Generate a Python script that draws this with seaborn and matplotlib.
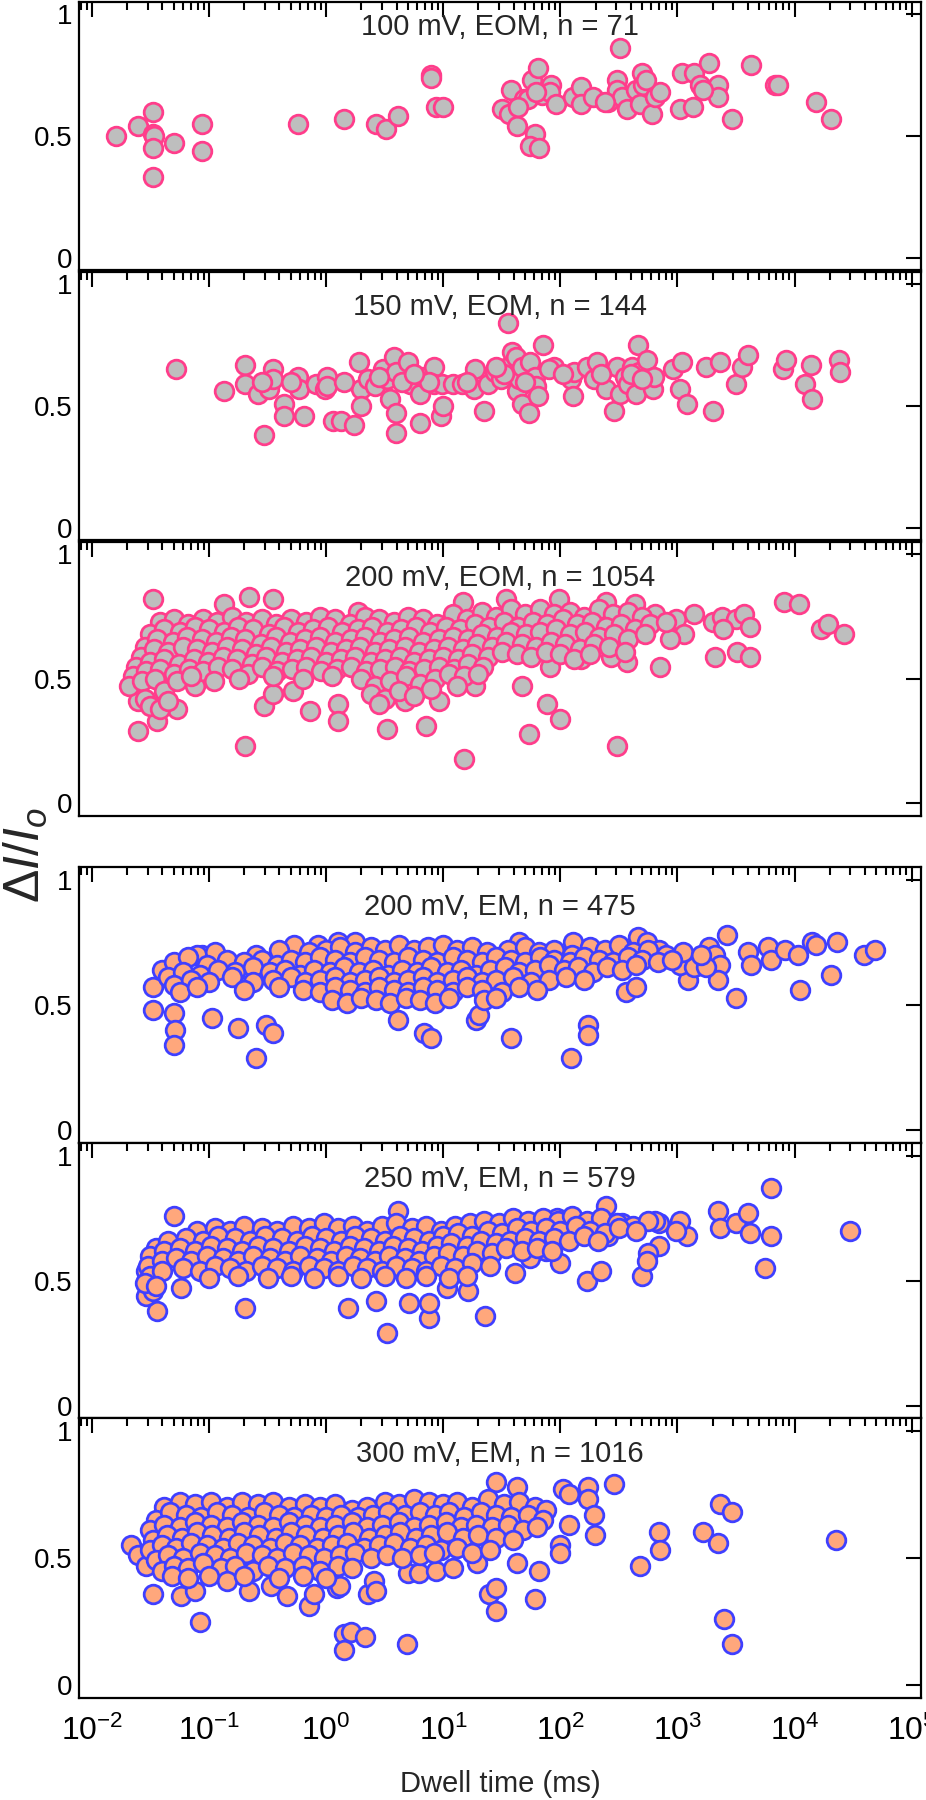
import numpy as np
import pandas as pd
import seaborn as sns
import matplotlib.pyplot as plt
from matplotlib.ticker import LogLocator, NullFormatter, NullLocator, FixedLocator

# (log10 dwell time in ms, dI/Io)
eom100 = [(-1.79, 0.50), (-1.61, 0.54), (-1.48, 0.60), (-1.48, 0.51), (-1.47, 0.50), (-1.48, 0.45),
          (-1.48, 0.33), (-1.30, 0.47), (-1.06, 0.55), (-1.06, 0.44), (-0.24, 0.55), (0.15, 0.57),
          (0.43, 0.55), (0.51, 0.53), (0.61, 0.58), (0.90, 0.75), (0.90, 0.74), (0.94, 0.62),
          (1.00, 0.62), (1.50, 0.61), (1.56, 0.59), (1.58, 0.69), (1.63, 0.54), (1.69, 0.65),
          (1.72, 0.65), (1.76, 0.73), (1.81, 0.78), (1.78, 0.51), (1.74, 0.46), (1.82, 0.45),
          (1.84, 0.67), (1.92, 0.71), (1.91, 0.68), (1.96, 0.63), (2.11, 0.66), (2.18, 0.70),
          (2.18, 0.63), (2.28, 0.66), (2.41, 0.64), (2.48, 0.73), (2.48, 0.69), (2.51, 0.86),
          (2.53, 0.66), (2.57, 0.61), (2.65, 0.69), (2.70, 0.76), (2.71, 0.71), (2.68, 0.63),
          (2.78, 0.59), (2.81, 0.66), (2.85, 0.68), (3.02, 0.61), (3.04, 0.76), (3.13, 0.62),
          (3.14, 0.76), (3.19, 0.71), (3.27, 0.80), (3.30, 0.69), (3.35, 0.71), (3.35, 0.66),
          (3.47, 0.57), (3.63, 0.79), (3.83, 0.71), (3.86, 0.71), (4.18, 0.64), (4.31, 0.57),
          (2.38, 0.64), (3.22, 0.69), (1.64, 0.62), (2.73, 0.73), (1.79, 0.68)]

eom150 = [(-1.28, 0.65), (-0.87, 0.56), (-0.69, 0.67), (-0.69, 0.59), (-0.58, 0.55), (-0.53, 0.38),
          (-0.49, 0.57), (-0.45, 0.65), (-0.45, 0.61), (-0.36, 0.51), (-0.36, 0.46), (-0.24, 0.62),
          (-0.23, 0.57), (-0.19, 0.46), (-0.09, 0.59), (-0.01, 0.57), (0.01, 0.62), (0.01, 0.58),
          (0.06, 0.44), (0.13, 0.44), (0.24, 0.42), (0.28, 0.68), (0.30, 0.57), (0.30, 0.50),
          (0.36, 0.61), (0.42, 0.58), (0.49, 0.65), (0.52, 0.61), (0.55, 0.53), (0.58, 0.70),
          (0.60, 0.64), (0.60, 0.47), (0.60, 0.39), (0.70, 0.68), (0.72, 0.59), (0.80, 0.55),
          (0.80, 0.43), (0.83, 0.62), (0.92, 0.66), (0.92, 0.59), (0.98, 0.46), (1.00, 0.50),
          (0.99, 0.59), (1.08, 0.59), (1.16, 0.59), (1.26, 0.57), (1.27, 0.65), (1.35, 0.48),
          (1.38, 0.59), (1.44, 0.64), (1.49, 0.61), (1.55, 0.84), (1.55, 0.66), (1.59, 0.72),
          (1.62, 0.70), (1.63, 0.56), (1.65, 0.61), (1.67, 0.66), (1.67, 0.51), (1.73, 0.47),
          (1.74, 0.68), (1.78, 0.62), (1.79, 0.58), (1.81, 0.54), (1.85, 0.75), (1.95, 0.66),
          (2.09, 0.61), (2.11, 0.54), (2.12, 0.64), (2.23, 0.66), (2.29, 0.61), (2.31, 0.68),
          (2.39, 0.57), (2.46, 0.48), (2.48, 0.66), (2.51, 0.55), (2.55, 0.62), (2.58, 0.59),
          (2.61, 0.66), (2.65, 0.55), (2.66, 0.75), (2.67, 0.64), (2.74, 0.69), (2.79, 0.57),
          (2.80, 0.62), (2.96, 0.65), (3.02, 0.57), (3.04, 0.68), (3.08, 0.51), (3.24, 0.66),
          (3.30, 0.48), (3.36, 0.68), (3.50, 0.59), (3.55, 0.66), (3.60, 0.71), (3.90, 0.65),
          (3.93, 0.69), (4.09, 0.59), (4.14, 0.67), (4.15, 0.53), (4.38, 0.69), (4.39, 0.64),
          (0.15, 0.60), (0.45, 0.62), (0.65, 0.60), (0.88, 0.60), (1.20, 0.60), (1.52, 0.63),
          (1.70, 0.60), (1.90, 0.65), (2.02, 0.63), (2.35, 0.63), (2.60, 0.63), (2.70, 0.61),
          (1.45, 0.66), (0.75, 0.63), (-0.30, 0.60), (-0.55, 0.60)]

eom200 = [(-1.48, 0.82), (-1.61, 0.29), (-1.44, 0.33), (-1.61, 0.41), (-1.27, 0.38), (-1.12, 0.47),
          (-0.66, 0.83), (-0.45, 0.82), (-0.87, 0.80), (-0.69, 0.23), (-0.53, 0.39), (-0.45, 0.44),
          (-0.28, 0.45), (-0.14, 0.37), (0.10, 0.40), (0.10, 0.33), (0.52, 0.30), (0.67, 0.41),
          (0.85, 0.31), (0.96, 0.41), (1.18, 0.18), (1.27, 0.47), (1.67, 0.47), (1.73, 0.28),
          (1.89, 0.40), (2.00, 0.34), (2.48, 0.23), (2.85, 0.55), (3.32, 0.59), (3.51, 0.61),
          (3.62, 0.59), (3.91, 0.81), (4.04, 0.80), (4.23, 0.70), (4.29, 0.72), (4.42, 0.68),
          (1.54, 0.82), (1.99, 0.82), (2.39, 0.81), (2.64, 0.80), (2.81, 0.76), (2.99, 0.74),
          (3.14, 0.76), (3.30, 0.73), (3.38, 0.75), (3.50, 0.74), (3.57, 0.76), (3.62, 0.71),
          (3.39, 0.70), (3.06, 0.68), (2.94, 0.66), (2.57, 0.57), (2.43, 0.59), (2.18, 0.58),
          (2.00, 0.60), (1.91, 0.55), (1.17, 0.81), (0.27, 0.77),
          (-1.42, 0.73), (-1.30, 0.74), (-1.18, 0.72), (-1.05, 0.74), (-0.93, 0.73), (-0.80, 0.75),
          (-0.68, 0.73), (-0.55, 0.74), (-0.43, 0.72), (-0.30, 0.74), (-0.17, 0.73), (-0.05, 0.75),
          (0.08, 0.74), (0.20, 0.72), (0.33, 0.75), (0.45, 0.74), (0.58, 0.73), (0.70, 0.75),
          (0.83, 0.74), (0.95, 0.72), (1.08, 0.76), (1.20, 0.74), (1.33, 0.77), (1.45, 0.75),
          (1.58, 0.78), (1.70, 0.76), (1.83, 0.78), (1.95, 0.76), (2.08, 0.77), (2.20, 0.75),
          (2.33, 0.78), (2.45, 0.76), (2.58, 0.77), (2.70, 0.75),
          (-1.50, 0.68), (-1.38, 0.70), (-1.25, 0.69), (-1.12, 0.71), (-1.00, 0.70), (-0.87, 0.69),
          (-0.75, 0.71), (-0.62, 0.70), (-0.49, 0.68), (-0.36, 0.71), (-0.24, 0.69), (-0.11, 0.70),
          (0.02, 0.71), (0.14, 0.69), (0.27, 0.70), (0.39, 0.71), (0.52, 0.69), (0.64, 0.70),
          (0.77, 0.71), (0.89, 0.69), (1.02, 0.71), (1.14, 0.70), (1.27, 0.72), (1.39, 0.71),
          (1.52, 0.73), (1.64, 0.71), (1.77, 0.73), (1.89, 0.72), (2.02, 0.74), (2.14, 0.72),
          (2.27, 0.73), (2.39, 0.71), (2.52, 0.72), (2.64, 0.70), (2.77, 0.72), (2.90, 0.73),
          (-1.55, 0.63), (-1.44, 0.66), (-1.31, 0.65), (-1.19, 0.67), (-1.06, 0.66), (-0.94, 0.65),
          (-0.81, 0.67), (-0.69, 0.66), (-0.56, 0.64), (-0.43, 0.67), (-0.31, 0.65), (-0.18, 0.66),
          (-0.05, 0.67), (0.08, 0.65), (0.21, 0.66), (0.33, 0.67), (0.46, 0.65), (0.58, 0.66),
          (0.71, 0.67), (0.83, 0.65), (0.96, 0.66), (1.08, 0.67), (1.21, 0.66), (1.33, 0.68),
          (1.46, 0.67), (1.58, 0.69), (1.71, 0.68), (1.83, 0.69), (1.96, 0.70), (2.08, 0.68),
          (2.21, 0.69), (2.33, 0.67), (2.46, 0.68), (2.58, 0.66), (2.72, 0.68),
          (-1.58, 0.59), (-1.47, 0.62), (-1.35, 0.61), (-1.22, 0.63), (-1.10, 0.62), (-0.97, 0.61),
          (-0.85, 0.63), (-0.72, 0.62), (-0.60, 0.60), (-0.47, 0.63), (-0.34, 0.61), (-0.22, 0.62),
          (-0.09, 0.63), (0.04, 0.61), (0.17, 0.62), (0.29, 0.63), (0.42, 0.61), (0.54, 0.62),
          (0.67, 0.63), (0.79, 0.61), (0.92, 0.62), (1.04, 0.63), (1.17, 0.62), (1.29, 0.64),
          (1.42, 0.63), (1.54, 0.65), (1.67, 0.64), (1.79, 0.63), (1.92, 0.65), (2.04, 0.64),
          (2.17, 0.62), (2.29, 0.64), (2.42, 0.63), (2.55, 0.61),
          (-1.62, 0.55), (-1.50, 0.57), (-1.38, 0.58), (-1.26, 0.56), (-1.13, 0.58), (-1.01, 0.57),
          (-0.88, 0.59), (-0.76, 0.58), (-0.63, 0.56), (-0.51, 0.59), (-0.38, 0.57), (-0.25, 0.58),
          (-0.13, 0.59), (0.00, 0.57), (0.13, 0.58), (0.25, 0.59), (0.38, 0.57), (0.50, 0.58),
          (0.63, 0.59), (0.75, 0.57), (0.88, 0.58), (1.00, 0.59), (1.13, 0.58), (1.25, 0.60),
          (1.38, 0.59), (1.50, 0.61), (1.63, 0.60), (1.75, 0.59), (1.88, 0.61), (2.00, 0.60),
          (2.12, 0.58), (2.25, 0.60),
          (-1.65, 0.51), (-1.54, 0.53), (-1.42, 0.54), (-1.30, 0.52), (-1.17, 0.54), (-1.05, 0.53),
          (-0.92, 0.55), (-0.80, 0.54), (-0.67, 0.52), (-0.55, 0.55), (-0.42, 0.53), (-0.29, 0.54),
          (-0.17, 0.55), (-0.04, 0.53), (0.09, 0.54), (0.21, 0.55), (0.34, 0.53), (0.46, 0.54),
          (0.59, 0.55), (0.71, 0.53), (0.84, 0.54), (0.96, 0.55), (1.09, 0.54), (1.21, 0.56),
          (1.34, 0.55),
          (-1.68, 0.47), (-1.57, 0.49), (-1.46, 0.50), (-1.38, 0.45), (-1.27, 0.49), (-1.15, 0.51),
          (-0.96, 0.49), (-0.74, 0.50), (-0.45, 0.51), (-0.20, 0.50), (0.05, 0.51), (0.30, 0.50),
          (0.42, 0.47), (0.55, 0.49), (0.68, 0.51), (0.80, 0.48), (0.93, 0.50), (1.05, 0.52),
          (1.18, 0.51), (1.30, 0.52),
          (0.38, 0.44), (0.50, 0.42), (0.62, 0.45), (0.75, 0.43), (0.45, 0.40), (0.90, 0.46),
          (1.12, 0.47), (-1.55, 0.42), (-1.50, 0.39), (-1.42, 0.38), (-1.35, 0.41)]

em200 = [(-1.48, 0.57), (-1.48, 0.48), (-1.30, 0.47), (-1.29, 0.40), (-1.30, 0.34), (-1.06, 0.70),
         (-0.97, 0.45), (-0.75, 0.41), (-0.60, 0.29), (-0.51, 0.42), (-0.45, 0.39), (-0.27, 0.74),
         (-0.07, 0.74), (0.10, 0.75), (0.25, 0.75), (0.61, 0.44), (0.84, 0.39), (0.90, 0.37),
         (1.28, 0.44), (1.31, 0.46), (1.58, 0.37), (1.65, 0.75), (2.09, 0.29), (2.11, 0.75),
         (2.24, 0.42), (2.24, 0.38), (2.56, 0.55), (2.65, 0.57), (2.66, 0.77), (2.74, 0.75),
         (2.84, 0.72), (3.42, 0.78), (3.50, 0.53), (3.27, 0.73), (3.32, 0.70), (3.36, 0.66),
         (3.35, 0.60), (3.09, 0.60), (3.60, 0.71), (3.63, 0.66), (3.77, 0.73), (3.80, 0.68),
         (3.92, 0.72), (4.03, 0.70), (4.05, 0.56), (4.15, 0.75), (4.18, 0.74), (4.31, 0.62),
         (4.36, 0.75), (4.59, 0.70), (4.69, 0.72), (3.02, 0.66), (3.14, 0.65), (3.24, 0.65),
         (-1.10, 0.70), (-0.95, 0.71), (-0.60, 0.70), (-0.40, 0.72), (-0.15, 0.71), (0.00, 0.72),
         (0.12, 0.73), (0.25, 0.71), (0.38, 0.73), (0.50, 0.72), (0.62, 0.74), (0.75, 0.72),
         (0.87, 0.73), (1.00, 0.74), (1.12, 0.72), (1.25, 0.73), (1.37, 0.71), (1.55, 0.72),
         (1.70, 0.73), (1.82, 0.71), (1.95, 0.72), (2.10, 0.70), (2.25, 0.73), (2.38, 0.72),
         (2.50, 0.74), (2.62, 0.71), (2.75, 0.72), (2.90, 0.70), (3.05, 0.71), (3.20, 0.70),
         (-1.40, 0.64), (-1.30, 0.67), (-1.18, 0.69), (-1.02, 0.66), (-0.85, 0.68), (-0.70, 0.67),
         (-0.55, 0.68), (-0.42, 0.66), (-0.30, 0.68), (-0.18, 0.67), (-0.05, 0.69), (0.08, 0.68),
         (0.20, 0.67), (0.33, 0.69), (0.45, 0.68), (0.58, 0.67), (0.70, 0.69), (0.83, 0.68),
         (0.95, 0.67), (1.08, 0.69), (1.20, 0.68), (1.33, 0.67), (1.45, 0.69), (1.58, 0.68),
         (1.70, 0.67), (1.83, 0.69), (1.95, 0.68), (2.08, 0.67), (2.20, 0.69), (2.33, 0.68),
         (2.45, 0.67), (2.58, 0.69), (2.70, 0.68), (2.83, 0.67), (2.95, 0.68),
         (-1.35, 0.61), (-1.22, 0.63), (-1.08, 0.62), (-0.92, 0.64), (-0.78, 0.63), (-0.62, 0.65),
         (-0.48, 0.63), (-0.35, 0.64), (-0.22, 0.62), (-0.10, 0.64), (0.03, 0.63), (0.15, 0.65),
         (0.28, 0.63), (0.40, 0.64), (0.53, 0.62), (0.65, 0.64), (0.78, 0.63), (0.90, 0.65),
         (1.03, 0.63), (1.15, 0.64), (1.28, 0.62), (1.40, 0.64), (1.53, 0.65), (1.65, 0.63),
         (1.78, 0.64), (1.90, 0.66), (2.03, 0.64), (2.15, 0.65), (2.28, 0.63), (2.40, 0.65),
         (2.53, 0.64), (2.65, 0.66),
         (-1.30, 0.58), (-1.15, 0.60), (-1.00, 0.59), (-0.80, 0.61), (-0.62, 0.59), (-0.45, 0.60),
         (-0.30, 0.61), (-0.18, 0.59), (-0.05, 0.60), (0.08, 0.61), (0.20, 0.59), (0.33, 0.60),
         (0.45, 0.61), (0.58, 0.59), (0.70, 0.60), (0.83, 0.61), (0.95, 0.59), (1.08, 0.60),
         (1.20, 0.61), (1.33, 0.59), (1.45, 0.60), (1.60, 0.61), (1.75, 0.59), (1.90, 0.60),
         (2.05, 0.61), (2.20, 0.60),
         (-1.25, 0.55), (-1.10, 0.57), (-0.70, 0.56), (-0.40, 0.57), (-0.20, 0.56), (-0.05, 0.55),
         (0.08, 0.57), (0.20, 0.56), (0.33, 0.55), (0.45, 0.57), (0.58, 0.56), (0.70, 0.55),
         (0.83, 0.57), (0.95, 0.56), (1.08, 0.55), (1.20, 0.57), (1.33, 0.56), (1.50, 0.55),
         (1.65, 0.57), (1.80, 0.56),
         (0.05, 0.52), (0.18, 0.51), (0.30, 0.53), (0.43, 0.52), (0.55, 0.51), (0.68, 0.53),
         (0.80, 0.52), (0.93, 0.51), (1.05, 0.53), (1.35, 0.52), (1.45, 0.53)]

em250 = [(-1.30, 0.76), (-1.44, 0.38), (-1.54, 0.44), (-1.54, 0.54), (-1.48, 0.46), (-1.24, 0.47),
         (-0.69, 0.39), (0.19, 0.39), (0.43, 0.42), (0.52, 0.29), (0.71, 0.41), (0.88, 0.35),
         (0.88, 0.41), (1.03, 0.47), (1.21, 0.46), (1.36, 0.36), (0.61, 0.78), (1.61, 0.53),
         (1.74, 0.59), (2.00, 0.57), (2.23, 0.50), (2.35, 0.54), (2.39, 0.80), (2.70, 0.52),
         (3.35, 0.78), (3.36, 0.71), (3.50, 0.73), (3.60, 0.77), (3.62, 0.69), (3.75, 0.55),
         (3.80, 0.87), (3.80, 0.68), (4.47, 0.70), (3.08, 0.68), (3.02, 0.74), (2.99, 0.70),
         (2.84, 0.73), (2.81, 0.74), (2.84, 0.64), (2.75, 0.61), (2.74, 0.58), (2.53, 0.73),
         (2.41, 0.68), (2.12, 0.70), (1.97, 0.75), (1.88, 0.62),
         (-1.10, 0.70), (-0.95, 0.71), (-0.82, 0.70), (-0.70, 0.72), (-0.55, 0.71), (-0.42, 0.70),
         (-0.28, 0.72), (-0.15, 0.71), (-0.02, 0.73), (0.10, 0.71), (0.23, 0.72), (0.35, 0.70),
         (0.48, 0.72), (0.60, 0.73), (0.73, 0.71), (0.85, 0.72), (0.98, 0.70), (1.10, 0.72),
         (1.23, 0.73), (1.35, 0.74), (1.48, 0.73), (1.60, 0.75), (1.72, 0.74), (1.85, 0.75),
         (1.98, 0.74), (2.10, 0.76), (2.23, 0.74), (2.35, 0.75), (2.48, 0.73), (2.62, 0.72),
         (2.75, 0.74),
         (-1.45, 0.63), (-1.35, 0.66), (-1.20, 0.67), (-1.05, 0.66), (-0.92, 0.68), (-0.78, 0.67),
         (-0.65, 0.66), (-0.52, 0.68), (-0.38, 0.67), (-0.25, 0.66), (-0.12, 0.68), (0.00, 0.67),
         (0.13, 0.66), (0.25, 0.68), (0.38, 0.67), (0.50, 0.66), (0.63, 0.68), (0.75, 0.67),
         (0.88, 0.66), (1.00, 0.68), (1.13, 0.69), (1.25, 0.68), (1.38, 0.70), (1.50, 0.69),
         (1.63, 0.71), (1.75, 0.70), (1.88, 0.71), (2.00, 0.70), (2.13, 0.72), (2.25, 0.70),
         (2.38, 0.69), (2.50, 0.71), (2.65, 0.70),
         (-1.50, 0.60), (-1.38, 0.62), (-1.25, 0.63), (-1.12, 0.62), (-0.98, 0.64), (-0.85, 0.63),
         (-0.72, 0.62), (-0.58, 0.64), (-0.45, 0.63), (-0.32, 0.62), (-0.18, 0.64), (-0.05, 0.63),
         (0.07, 0.62), (0.20, 0.64), (0.32, 0.63), (0.45, 0.62), (0.57, 0.64), (0.70, 0.63),
         (0.82, 0.62), (0.95, 0.64), (1.07, 0.65), (1.20, 0.64), (1.32, 0.66), (1.45, 0.65),
         (1.57, 0.66), (1.70, 0.67), (1.82, 0.66), (1.95, 0.67), (2.07, 0.66), (2.20, 0.68),
         (2.32, 0.66),
         (-1.52, 0.56), (-1.40, 0.58), (-1.28, 0.59), (-1.15, 0.58), (-1.02, 0.60), (-0.88, 0.59),
         (-0.75, 0.58), (-0.62, 0.60), (-0.48, 0.59), (-0.35, 0.58), (-0.22, 0.60), (-0.08, 0.59),
         (0.04, 0.58), (0.17, 0.60), (0.29, 0.59), (0.42, 0.58), (0.54, 0.60), (0.67, 0.59),
         (0.79, 0.58), (0.92, 0.60), (1.04, 0.61), (1.17, 0.60), (1.29, 0.62), (1.42, 0.61),
         (1.54, 0.63), (1.67, 0.62), (1.80, 0.63), (1.93, 0.62),
         (-1.50, 0.52), (-1.40, 0.54), (-1.22, 0.55), (-1.08, 0.54), (-0.95, 0.56), (-0.82, 0.55),
         (-0.68, 0.54), (-0.55, 0.56), (-0.42, 0.55), (-0.28, 0.54), (-0.15, 0.56), (-0.02, 0.55),
         (0.10, 0.54), (0.23, 0.56), (0.35, 0.55), (0.48, 0.54), (0.60, 0.56), (0.73, 0.55),
         (0.85, 0.54), (0.98, 0.56), (1.10, 0.55), (1.25, 0.57), (1.40, 0.56),
         (-1.55, 0.49), (-1.45, 0.48), (-1.00, 0.51), (-0.75, 0.52), (-0.50, 0.51), (-0.30, 0.52),
         (-0.10, 0.51), (0.10, 0.52), (0.30, 0.51), (0.50, 0.52), (0.68, 0.51), (0.85, 0.52),
         (1.05, 0.51), (1.20, 0.52)]

em300 = [(-1.67, 0.55), (-1.61, 0.51), (-1.54, 0.47), (-1.48, 0.36), (-1.24, 0.35), (-1.12, 0.37),
         (-1.08, 0.25), (-0.66, 0.37), (-0.47, 0.39), (-0.33, 0.35), (-0.15, 0.31), (-0.10, 0.36),
         (0.09, 0.38), (0.12, 0.39), (0.15, 0.20), (0.15, 0.14), (0.21, 0.21), (0.33, 0.19),
         (0.36, 0.36), (0.41, 0.41), (0.43, 0.37), (0.69, 0.16), (0.70, 0.44), (0.79, 0.44),
         (0.94, 0.45), (1.08, 0.46), (1.29, 0.48), (1.39, 0.36), (1.45, 0.38), (1.45, 0.29),
         (1.63, 0.48), (1.78, 0.34), (1.82, 0.45), (1.45, 0.80), (1.63, 0.78), (2.02, 0.77),
         (2.07, 0.75), (2.24, 0.78), (2.24, 0.73), (2.29, 0.67), (2.30, 0.59), (2.46, 0.79),
         (2.00, 0.55), (2.00, 0.52), (2.07, 0.63), (2.68, 0.47), (2.84, 0.60), (2.85, 0.53),
         (3.22, 0.60), (3.35, 0.56), (3.36, 0.71), (3.47, 0.68), (3.40, 0.26), (3.47, 0.16),
         (4.35, 0.57),
         (-1.38, 0.70), (-1.25, 0.72), (-1.12, 0.71), (-0.98, 0.72), (-0.85, 0.70), (-0.72, 0.72),
         (-0.58, 0.71), (-0.45, 0.72), (-0.32, 0.70), (-0.18, 0.71), (-0.05, 0.70), (0.08, 0.71),
         (0.22, 0.69), (0.35, 0.70), (0.50, 0.72), (0.62, 0.71), (0.75, 0.73), (0.88, 0.72),
         (1.00, 0.71), (1.12, 0.72), (1.25, 0.70), (1.38, 0.73), (1.52, 0.71), (1.65, 0.72),
         (1.78, 0.70), (1.88, 0.69),
         (-1.45, 0.65), (-1.33, 0.68), (-1.20, 0.67), (-1.07, 0.66), (-0.93, 0.68), (-0.80, 0.67),
         (-0.67, 0.66), (-0.53, 0.68), (-0.40, 0.67), (-0.27, 0.66), (-0.13, 0.67), (0.00, 0.66),
         (0.13, 0.67), (0.27, 0.66), (0.40, 0.67), (0.53, 0.68), (0.67, 0.67), (0.80, 0.68),
         (0.93, 0.67), (1.05, 0.68), (1.18, 0.66), (1.32, 0.68), (1.45, 0.67), (1.58, 0.66),
         (1.72, 0.67), (1.85, 0.65),
         (-1.50, 0.61), (-1.38, 0.63), (-1.25, 0.62), (-1.12, 0.64), (-0.98, 0.63), (-0.85, 0.62),
         (-0.72, 0.64), (-0.58, 0.63), (-0.45, 0.62), (-0.32, 0.64), (-0.18, 0.63), (-0.05, 0.62),
         (0.08, 0.63), (0.22, 0.64), (0.35, 0.62), (0.48, 0.63), (0.62, 0.64), (0.75, 0.62),
         (0.88, 0.63), (1.02, 0.64), (1.15, 0.62), (1.28, 0.63), (1.42, 0.62), (1.55, 0.63),
         (1.68, 0.61), (1.80, 0.62),
         (-1.48, 0.57), (-1.36, 0.59), (-1.23, 0.58), (-1.10, 0.60), (-0.97, 0.59), (-0.83, 0.58),
         (-0.70, 0.60), (-0.57, 0.59), (-0.43, 0.58), (-0.30, 0.60), (-0.17, 0.59), (-0.03, 0.58),
         (0.10, 0.59), (0.23, 0.60), (0.37, 0.58), (0.50, 0.59), (0.63, 0.60), (0.77, 0.58),
         (0.90, 0.59), (1.03, 0.60), (1.17, 0.58), (1.30, 0.59), (1.45, 0.58), (1.60, 0.57),
         (-1.50, 0.53), (-1.40, 0.55), (-1.28, 0.54), (-1.15, 0.56), (-1.02, 0.55), (-0.88, 0.54),
         (-0.75, 0.56), (-0.62, 0.55), (-0.48, 0.54), (-0.35, 0.56), (-0.22, 0.55), (-0.08, 0.54),
         (0.05, 0.55), (0.18, 0.56), (0.32, 0.54), (0.45, 0.55), (0.58, 0.56), (0.72, 0.54),
         (0.85, 0.55), (0.98, 0.53), (1.12, 0.54), (1.25, 0.52), (1.40, 0.53),
         (-1.45, 0.49), (-1.35, 0.51), (-1.22, 0.50), (-1.08, 0.52), (-0.95, 0.51), (-0.82, 0.50),
         (-0.68, 0.52), (-0.55, 0.51), (-0.42, 0.50), (-0.28, 0.52), (-0.15, 0.51), (-0.02, 0.50),
         (0.12, 0.51), (0.25, 0.52), (0.38, 0.50), (0.52, 0.51), (0.65, 0.50), (0.80, 0.51),
         (0.92, 0.52),
         (-1.40, 0.45), (-1.30, 0.47), (-1.18, 0.46), (-1.05, 0.48), (-0.90, 0.46), (-0.78, 0.47),
         (-0.62, 0.45), (-0.50, 0.47), (-0.35, 0.46), (-0.20, 0.47), (-0.05, 0.45), (0.10, 0.47),
         (0.22, 0.46),
         (-1.32, 0.43), (-1.18, 0.42), (-1.00, 0.43), (-0.85, 0.41), (-0.70, 0.43), (-0.40, 0.42),
         (-0.20, 0.43), (0.00, 0.42)]

datasets = [eom100, eom150, eom200, em200, em250, em300]
labels = ['100 mV, EOM, n = 71', '150 mV, EOM, n = 144', '200 mV, EOM, n = 1054',
          '200 mV, EM, n = 475', '250 mV, EM, n = 579', '300 mV, EM, n = 1016']
fills = ['#bebebe'] * 3 + ['#ffa77c'] * 3
edges = ['#ff3d8b'] * 3 + ['#3f3fff'] * 3
decades = [1e-2, 1e-1, 1e0, 1e1, 1e2, 1e3, 1e4, 1e5]

sns.set_theme(style='white')
plt.rcParams['font.family'] = ['Liberation Sans', 'DejaVu Sans']
plt.rcParams['mathtext.fontset'] = 'custom'
plt.rcParams['mathtext.rm'] = 'Liberation Sans'
plt.rcParams['mathtext.it'] = 'Liberation Sans:italic'
plt.rcParams['mathtext.bf'] = 'Liberation Sans:bold'

fig = plt.figure(figsize=(9.26, 18), dpi=100)

# panel layout in figure fractions: bottom, height
left, width = 0.0853, 0.9093
bottoms = [0.850, 0.700, 0.5467, 0.365, 0.2122, 0.0567]
heights = [0.1489, 0.1489, 0.1522, 0.1533, 0.1528, 0.1556]
title_y = [0.905, 0.87, 0.87, 0.855, 0.87, 0.87]

for i, pts in enumerate(datasets):
    ax = fig.add_axes([left, bottoms[i], width, heights[i]])
    df = pd.DataFrame(pts, columns=['logt', 'ratio'])
    df['dwell'] = 10 ** df['logt']
    sns.scatterplot(data=df, x='dwell', y='ratio', ax=ax, s=180,
                    color=fills[i], edgecolor=edges[i], linewidth=2.0,
                    legend=False, zorder=3)
    ax.set_xscale('log')
    ax.set_xlim(10 ** -2.11, 10 ** 5.08)
    ax.set_ylim(-0.05, 1.05)
    ax.xaxis.set_major_locator(FixedLocator(decades))
    ax.xaxis.set_minor_locator(LogLocator(base=10, subs=np.arange(2, 10), numticks=20))
    ax.xaxis.set_minor_formatter(NullFormatter())
    ax.set_yticks([0, 0.5, 1])
    ax.set_yticklabels(['0', '0.5', '1'])
    ax.yaxis.set_minor_locator(NullLocator())
    ax.tick_params(which='both', direction='in', top=True, right=True, width=1.5, colors='black')
    ax.tick_params(which='major', length=11)
    ax.tick_params(which='minor', length=5.5)
    ax.tick_params(axis='y', labelsize=20, pad=5)
    ax.tick_params(axis='x', labelsize=23, pad=13)
    for sp in ax.spines.values():
        sp.set_linewidth(1.6)
        sp.set_color('black')
    ax.set_ylabel('')
    if i < len(datasets) - 1:
        ax.tick_params(axis='x', labelbottom=False)
        ax.set_xlabel('')
    else:
        ax.set_xlabel('Dwell time (ms)', fontsize=21, labelpad=16)
    ax.text(0.5, title_y[i], labels[i], transform=ax.transAxes,
            ha='center', va='center', fontsize=21)

fig.text(0.028, 0.525, r'$\Delta I/I_o$', rotation=90, ha='center', va='center', fontsize=36)

fig.savefig('out.png', dpi=100)
